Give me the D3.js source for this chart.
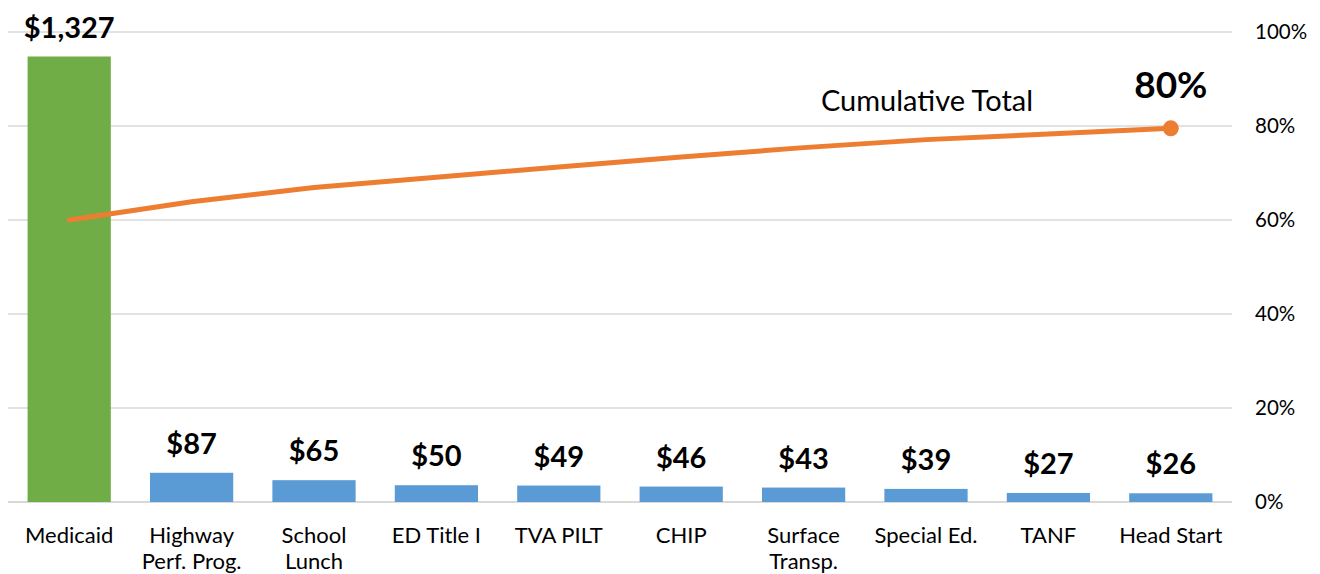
<!DOCTYPE html>
<html lang="en">
<head>
    <meta charset="UTF-8">
    <title>Pareto Chart</title>
    <style>
        body { margin: 0; background: #fff; font-family: Lato, "Open Sans", sans-serif; }
        svg { display: block; }
    </style>
</head>
<body>
    <div id="chart"></div>
    <script src="https://cdnjs.cloudflare.com/ajax/libs/d3/7.8.5/d3.min.js"></script>
    <script>
        // data
        const categories = ["Medicaid", "Highway\nPerf. Prog.", "School\nLunch", "ED Title I", "TVA PILT",
                            "CHIP", "Surface\nTransp.", "Special Ed.", "TANF", "Head Start"];
        const amounts = [1327, 87, 65, 50, 49, 46, 43, 39, 27, 26];
        const cumulativePct = [60.0, 63.9, 66.9, 69.1, 71.3, 73.4, 75.4, 77.1, 78.3, 79.5];
        const pctTicks = [0, 20, 40, 60, 80, 100];

        const width = 1320, height = 574;
        const plot = { left: 8, right: 1232, top: 32, bottom: 502 };

        const svg = d3.select("#chart").append("svg")
            .attr("width", width)
            .attr("height", height);

        const x = d3.scaleBand()
            .domain(categories)
            .range([plot.left, plot.right])
            .paddingInner(0.32)
            .paddingOuter(0.16);

        const yBar = d3.scaleLinear().domain([0, 1400]).range([plot.bottom, plot.top]);
        const yPct = d3.scaleLinear().domain([0, 100]).range([plot.bottom, plot.top]);

        // gridlines
        svg.append("g")
            .selectAll("line")
            .data(pctTicks)
            .join("line")
            .attr("x1", plot.left)
            .attr("x2", plot.right)
            .attr("y1", d => yPct(d))
            .attr("y2", d => yPct(d))
            .attr("stroke", "#d9d9d9")
            .attr("stroke-width", d => d === 0 ? 2 : 1.3);

        // right axis
        const rightAxis = d3.axisRight(yPct)
            .tickValues(pctTicks)
            .tickFormat(d => d + "%")
            .tickSize(0)
            .tickPadding(0);
        const ra = svg.append("g")
            .attr("transform", `translate(1255,0)`)
            .call(rightAxis);
        ra.select(".domain").remove();
        ra.selectAll("text")
            .attr("font-family", "Lato, sans-serif")
            .attr("font-size", 20.5)
            .attr("fill", "#000");

        // bars
        svg.append("g")
            .selectAll("rect")
            .data(amounts)
            .join("rect")
            .attr("x", (d, i) => x(categories[i]))
            .attr("width", x.bandwidth())
            .attr("y", d => yBar(d))
            .attr("height", d => plot.bottom - yBar(d))
            .attr("fill", (d, i) => i === 0 ? "#70ad47" : "#5b9bd5");

        // bar value labels
        svg.append("g")
            .selectAll("text")
            .data(amounts)
            .join("text")
            .attr("x", (d, i) => x(categories[i]) + x.bandwidth() / 2)
            .attr("y", d => yBar(d) - 19)
            .attr("text-anchor", "middle")
            .attr("font-size", 29)
            .attr("font-weight", "bold")
            .attr("fill", "#000")
            .text(d => "$" + d3.format(",")(d));

        // category labels (bottom axis)
        const bottomAxis = d3.axisBottom(x).tickSize(0).tickFormat("");
        const ba = svg.append("g")
            .attr("transform", `translate(0,${plot.bottom})`)
            .call(bottomAxis);
        ba.select(".domain").remove();
        ba.selectAll(".tick").each(function(d) {
            const t = d3.select(this).append("text")
                .attr("text-anchor", "middle")
                .attr("font-size", 22)
                .attr("fill", "#000")
                .attr("font-family", "Lato, sans-serif");
            d.split("\n").forEach((line, k) => {
                t.append("tspan").attr("x", 0).attr("y", 41 + k * 26).text(line);
            });
        });

        // cumulative line
        const line = d3.line()
            .x((d, i) => x(categories[i]) + x.bandwidth() / 2)
            .y(d => yPct(d));

        svg.append("path")
            .datum(cumulativePct)
            .attr("d", line)
            .attr("fill", "none")
            .attr("stroke", "#ed7d31")
            .attr("stroke-width", 5)
            .attr("stroke-linecap", "round");

        const last = cumulativePct.length - 1;
        const lx = x(categories[last]) + x.bandwidth() / 2;
        svg.append("circle")
            .attr("cx", lx)
            .attr("cy", yPct(cumulativePct[last]))
            .attr("r", 8)
            .attr("fill", "#ed7d31");

        svg.append("text")
            .attr("x", lx)
            .attr("y", yPct(cumulativePct[last]) - 30)
            .attr("text-anchor", "middle")
            .attr("font-size", 37)
            .attr("font-weight", "bold")
            .attr("fill", "#000")
            .text(Math.round(cumulativePct[last]) + "%");

        svg.append("text")
            .attr("x", 927)
            .attr("y", 111)
            .attr("text-anchor", "middle")
            .attr("font-size", 29)
            .attr("fill", "#000")
            .text("Cumulative Total");
    </script>
</body>
</html>
